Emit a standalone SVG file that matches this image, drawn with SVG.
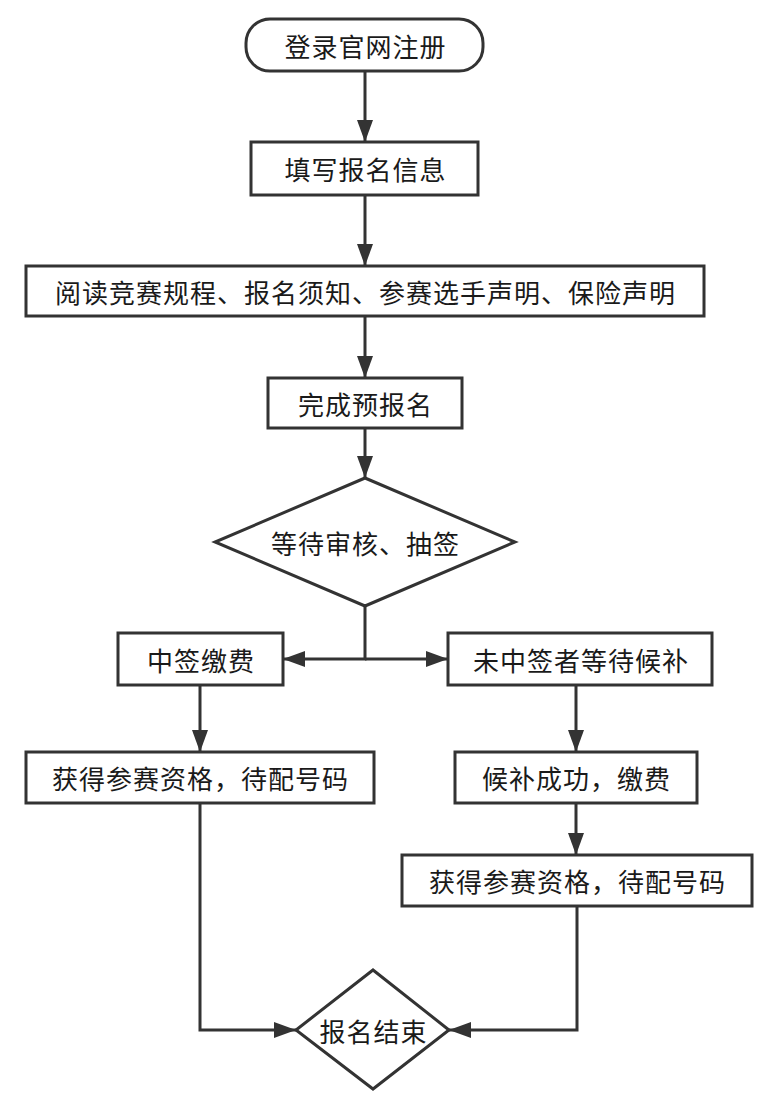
<svg xmlns="http://www.w3.org/2000/svg" width="770" height="1118" viewBox="0 0 770 1118">
<style>
.n{fill:#fff;stroke:#333;stroke-width:3}
.c{fill:none;stroke:#333;stroke-width:3}
.t{font-family:"Noto Sans CJK SC","Noto Sans",sans-serif;font-size:26px;fill:#1a1a1a;text-anchor:middle;dominant-baseline:central;letter-spacing:1px}
</style>
<defs>
<marker id="ah" markerUnits="userSpaceOnUse" markerWidth="24" markerHeight="18" refX="22" refY="8" orient="auto">
<path d="M0,0 L22,8 L0,16 z" fill="#333"/>
</marker>
</defs>
<rect width="770" height="1118" fill="#fff"/>
<g id="connectors">
<line class="c" x1="365" y1="71" x2="365" y2="142" marker-end="url(#ah)"/>
<line class="c" x1="365" y1="195" x2="365" y2="266" marker-end="url(#ah)"/>
<line class="c" x1="365" y1="316" x2="365" y2="378" marker-end="url(#ah)"/>
<line class="c" x1="365" y1="428" x2="365" y2="478" marker-end="url(#ah)"/>
<polyline class="c" points="365,606 365,659 283,659" marker-end="url(#ah)"/>
<polyline class="c" points="365,659 448,659" marker-end="url(#ah)"/>
<line class="c" x1="200" y1="685" x2="200" y2="752" marker-end="url(#ah)"/>
<line class="c" x1="576" y1="685" x2="576" y2="752" marker-end="url(#ah)"/>
<line class="c" x1="576" y1="803" x2="576" y2="855" marker-end="url(#ah)"/>
<polyline class="c" points="200,803 200,1030 296,1030" marker-end="url(#ah)"/>
<polyline class="c" points="577,906 577,1030 449,1030" marker-end="url(#ah)"/>
</g>
<g id="start">
<rect class="n" x="246" y="19" width="237" height="52" rx="24" ry="24"/>
<text class="t" x="365.5" y="45">登录官网注册</text>
</g>
<g id="fill-info">
<rect class="n" x="251" y="142" width="227" height="53"/>
<text class="t" x="365.5" y="168">填写报名信息</text>
</g>
<g id="read-rules">
<rect class="n" x="26" y="266" width="678" height="50"/>
<text class="t" x="365.5" y="291">阅读竞赛规程、报名须知、参赛选手声明、保险声明</text>
</g>
<g id="pre-reg">
<rect class="n" x="268" y="378" width="194" height="50"/>
<text class="t" x="365.5" y="403">完成预报名</text>
</g>
<g id="review">
<polygon class="n" points="365,478 515,542 365,606 215,542"/>
<text class="t" x="365.5" y="542">等待审核、抽签</text>
</g>
<g id="drawn">
<rect class="n" x="118" y="633" width="165" height="52"/>
<text class="t" x="201" y="659">中签缴费</text>
</g>
<g id="not-drawn">
<rect class="n" x="448" y="633" width="264" height="52"/>
<text class="t" x="581" y="659">未中签者等待候补</text>
</g>
<g id="qualified-left">
<rect class="n" x="26" y="752" width="348" height="51"/>
<text class="t" x="200.5" y="777">获得参赛资格，待配号码</text>
</g>
<g id="waitlist-success">
<rect class="n" x="455" y="752" width="242" height="51"/>
<text class="t" x="576.5" y="777">候补成功，缴费</text>
</g>
<g id="qualified-right">
<rect class="n" x="402" y="855" width="350" height="51"/>
<text class="t" x="577.5" y="880">获得参赛资格，待配号码</text>
</g>
<g id="end">
<polygon class="n" points="373,970 449,1030 373,1089 296,1030"/>
<text class="t" x="373.5" y="1030">报名结束</text>
</g>
</svg>
